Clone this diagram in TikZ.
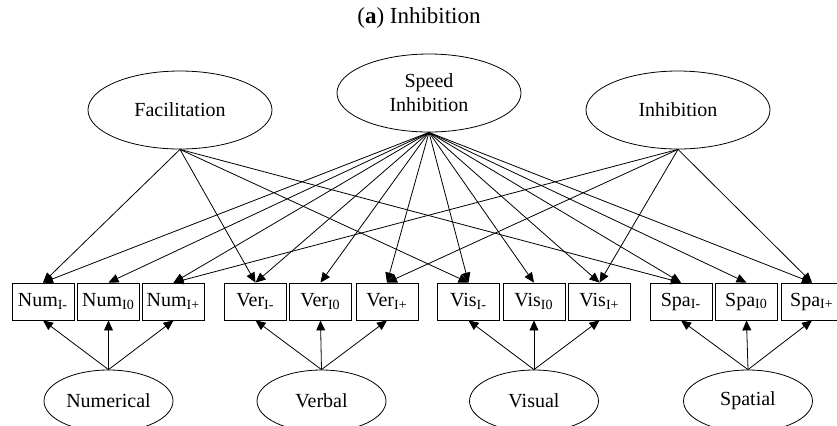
\documentclass[tikz,border=0pt]{standalone}
\usepackage{fontspec}
\setmainfont{Liberation Serif}
\usepackage{tikz}
\usetikzlibrary{shapes}
\usetikzlibrary{arrows.meta}
\tikzset{
    mynode/.style = {ellipse, draw=black, thin, align=center, inner sep=0pt, minimum width=92pt, minimum height=39pt},
    mynodeb/.style = {ellipse, draw=black, thin, align=center, inner sep=0pt, minimum width=64.5pt, minimum height=31pt},
    cell/.style = {rectangle, draw=black, thin, inner sep=0pt, minimum width=31pt, minimum height=18.5pt},
    edgen/.style = {-{Triangle[length=5pt,width=4.4pt]}, thin, black},
}

\begin{document}
\begin{tikzpicture}[x=0.5pt, y=-0.5pt]
  \useasboundingbox (0,0) rectangle (837,425);

  % title
  \node[font=\fontsize{11.5}{14}\selectfont] (title) at (419,18) {(\textbf{a}) Inhibition};

  % latent factors, top
  \node[mynode] (fac) at (180,110) {Facilitation};
  \node[mynode] (spd) at (429,93) {Speed\\Inhibition};
  \node[mynode] (inh) at (678,110) {Inhibition};

  % indicators
  \node[cell] (num1) at ( 43,301.5) {Num\textsubscript{I-}};
  \node[cell] (num2) at (108.5,301.5) {Num\textsubscript{I0}};
  \node[cell] (num3) at (173.5,301.5) {Num\textsubscript{I+}};
  \node[cell] (ver1) at (255.5,301.5) {Ver\textsubscript{I-}};
  \node[cell] (ver2) at (320.5,301.5) {Ver\textsubscript{I0}};
  \node[cell] (ver3) at (387,301.5) {Ver\textsubscript{I+}};
  \node[cell] (vis1) at (468.5,301.5) {Vis\textsubscript{I-}};
  \node[cell] (vis2) at (534,301.5) {Vis\textsubscript{I0}};
  \node[cell] (vis3) at (599.5,301.5) {Vis\textsubscript{I+}};
  \node[cell] (spa1) at (681,301.5) {Spa\textsubscript{I-}};
  \node[cell] (spa2) at (746.5,301.5) {Spa\textsubscript{I0}};
  \node[cell] (spa3) at (812,301.5) {Spa\textsubscript{I+}};

  % domain factors, bottom
  \node[mynodeb] (numr) at (108.5,401) {Numerical};
  \node[mynodeb] (verb) at (321.5,401) {Verbal};
  \node[mynodeb] (visu) at (534,401) {Visual};
  \node[mynodeb] (spat) at (748,401) {Spatial};

  % facilitation -> I- conditions
  \draw[edgen] (fac.south) -- (num1.north);
  \draw[edgen] (fac.south) -- (ver1.north);
  \draw[edgen] (fac.south) -- (vis1.north);
  \draw[edgen] (fac.south) -- (spa1.north);

  % inhibition -> I+ conditions
  \draw[edgen] (inh.south) -- (num3.north);
  \draw[edgen] (inh.south) -- (ver3.north);
  \draw[edgen] (inh.south) -- (vis3.north);
  \draw[edgen] (inh.south) -- (spa3.north);

  % speed inhibition -> all
  \draw[edgen] (spd.south) -- (num1.north);
  \draw[edgen] (spd.south) -- (num2.north);
  \draw[edgen] (spd.south) -- (num3.north);
  \draw[edgen] (spd.south) -- (ver1.north);
  \draw[edgen] (spd.south) -- (ver2.north);
  \draw[edgen] (spd.south) -- (ver3.north);
  \draw[edgen] (spd.south) -- (vis1.north);
  \draw[edgen] (spd.south) -- (vis2.north);
  \draw[edgen] (spd.south) -- (vis3.north);
  \draw[edgen] (spd.south) -- (spa1.north);
  \draw[edgen] (spd.south) -- (spa2.north);
  \draw[edgen] (spd.south) -- (spa3.north);

  % domains -> indicators
  \draw[edgen] (numr.north) -- (num1.south);
  \draw[edgen] (numr.north) -- (num2.south);
  \draw[edgen] (numr.north) -- (num3.south);
  \draw[edgen] (verb.north) -- (ver1.south);
  \draw[edgen] (verb.north) -- (ver2.south);
  \draw[edgen] (verb.north) -- (ver3.south);
  \draw[edgen] (visu.north) -- (vis1.south);
  \draw[edgen] (visu.north) -- (vis2.south);
  \draw[edgen] (visu.north) -- (vis3.south);
  \draw[edgen] (spat.north) -- (spa1.south);
  \draw[edgen] (spat.north) -- (spa2.south);
  \draw[edgen] (spat.north) -- (spa3.south);
\end{tikzpicture}
\end{document}
